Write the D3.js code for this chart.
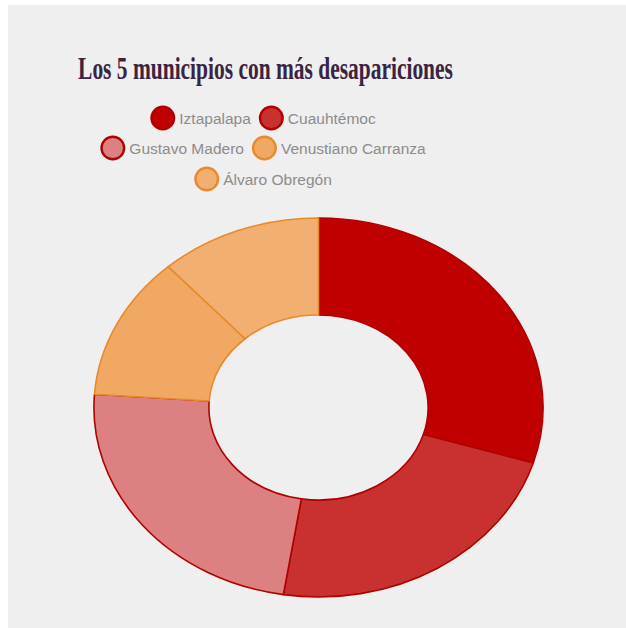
<!DOCTYPE html>
<html>
<head>
<meta charset="utf-8">
<script src="https://cdn.jsdelivr.net/npm/d3@7"></script>
<style>
  html, body { margin: 0; padding: 0; background: #ffffff; }
  svg { display: block; }
</style>
</head>
<body>
<svg id="chart" width="626" height="628"></svg>
<script>
const title = "Los 5 municipios con más desapariciones";
const categories = ["Iztapalapa", "Cuauhtémoc", "Gustavo Madero", "Venustiano Carranza", "Álvaro Obregón"];
const values = [107, 82, 85, 44, 42];
const fills = ["#c00000", "#c93131", "#dc8081", "#f0a862", "#f1b071"];
const strokes = ["#b00000", "#b00000", "#b00000", "#e8892c", "#e8892c"];
const legendRows = [[0, 1], [2, 3], [4]];

const svg = d3.select("#chart");
const W = 626, H = 628;
const ctx = document.createElement("canvas").getContext("2d");

// panel background
svg.append("rect").attr("x", 8).attr("y", 5).attr("width", W - 8).attr("height", H - 5).attr("fill", "#efefef");

// title (horizontally condensed to match the reference)
const titleFont = "bold 32px 'Liberation Serif', 'Times New Roman', serif";
ctx.font = titleFont;
const titleNatural = ctx.measureText(title).width;
const titleWidth = 375;
svg.append("g")
  .attr("transform", `translate(265.5,79) scale(${titleWidth / titleNatural},1)`)
  .append("text")
  .attr("x", 0).attr("y", 0)
  .attr("text-anchor", "middle")
  .attr("font-family", "'Liberation Serif', 'Times New Roman', serif")
  .attr("font-weight", "bold")
  .attr("font-size", 32)
  .attr("fill", "#3b2342")
  .text(title);

// legend
const legendCx = 263;
const rowY = [118, 148, 179];
const r = 12.5, gapText = 4, gapItem = 8;
ctx.font = "15.5px 'Liberation Sans', Arial, sans-serif";
legendRows.forEach((row, ri) => {
  const widths = row.map(i => 2 * r + gapText + ctx.measureText(categories[i]).width);
  const total = d3.sum(widths) + gapItem * (row.length - 1);
  let x = legendCx - total / 2;
  row.forEach((i, k) => {
    const g = svg.append("g").attr("transform", `translate(${x},${rowY[ri]})`);
    g.append("circle").attr("cx", r).attr("cy", 0).attr("r", r - 1.2)
      .attr("fill", fills[i]).attr("stroke", strokes[i]).attr("stroke-width", 2.4);
    g.append("text").attr("x", 2 * r + gapText).attr("y", 0).attr("dy", "0.36em")
      .attr("font-family", "'Liberation Sans', Arial, sans-serif")
      .attr("font-size", 15.5).attr("fill", "#8c8c8c")
      .text(categories[i]);
    x += widths[k] + gapItem;
  });
});

// donut (elliptical)
const cx = 318.5, cy = 407.5, outerR = 189.5, innerR = 92.5, sx = 1.185;
const pie = d3.pie().sort(null).value(d => d);
const arc = d3.arc().innerRadius(innerR).outerRadius(outerR);
const dg = svg.append("g").attr("transform", `translate(${cx},${cy}) scale(${sx},1)`);
dg.selectAll("path").data(pie(values)).join("path")
  .attr("d", arc)
  .attr("fill", (d, i) => fills[i])
  .attr("stroke", (d, i) => strokes[i])
  .attr("stroke-width", 1.6)
  .attr("vector-effect", "non-scaling-stroke")
  .attr("stroke-linejoin", "round");
</script>
</body>
</html>
